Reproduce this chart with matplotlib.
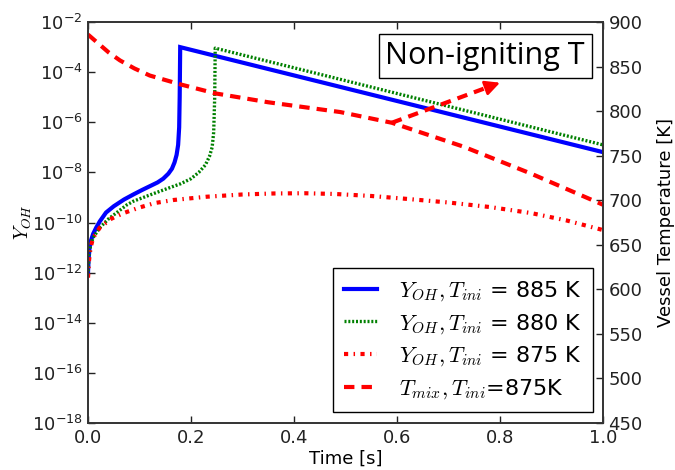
import numpy as np
import matplotlib
matplotlib.use('Agg')
import matplotlib.pyplot as plt
from matplotlib.ticker import FixedLocator, FuncFormatter, NullLocator

plt.rc('font', **{'size': 13, 'family': 'DejaVu Sans'})
plt.rc('mathtext', **{'fontset': 'cm'})

# OH mass fraction, T_ini = 885 K (log10 values)
t_885 = [0.0, 0.001, 0.003, 0.006, 0.010, 0.016, 0.023, 0.035, 0.050,
         0.070, 0.088, 0.105, 0.120, 0.135, 0.146, 0.156, 0.163, 0.168,
         0.172, 0.175, 0.177, 0.178, 0.179, 1.0]
logY_885 = [-12.0, -11.5, -11.0, -10.7, -10.45, -10.2, -9.95, -9.6, -9.35,
            -9.08, -8.88, -8.7, -8.55, -8.4, -8.25, -8.05, -7.85, -7.6,
            -7.3, -6.9, -6.2, -5.0, -3.0, -7.19]

# OH mass fraction, T_ini = 880 K
t_880 = [0.0, 0.002, 0.005, 0.010, 0.023, 0.040, 0.056, 0.075, 0.088,
         0.120, 0.153, 0.180, 0.200, 0.215, 0.228, 0.236, 0.241, 0.244,
         0.246, 0.247, 1.0]
logY_880 = [-12.1, -11.3, -10.9, -10.6, -10.2, -9.85, -9.6, -9.3, -9.15,
            -8.9, -8.65, -8.45, -8.25, -8.0, -7.7, -7.35, -7.0, -6.4,
            -5.0, -3.04, -6.9]

# OH mass fraction, T_ini = 875 K (no ignition)
t_875 = [0.0, 0.002, 0.005, 0.010, 0.023, 0.045, 0.068, 0.10, 0.13, 0.166,
         0.23, 0.30, 0.36, 0.42, 0.48, 0.55, 0.61, 0.70, 0.78, 0.86, 0.93,
         1.0]
logY_875 = [-12.2, -11.5, -11.0, -10.6, -10.2, -9.85, -9.63, -9.4, -9.22,
            -9.1, -8.97, -8.88, -8.84, -8.83, -8.86, -8.94, -9.04, -9.2,
            -9.38, -9.62, -9.92, -10.3]

# mixture temperature, T_ini = 875 K
t_mix = [0.0, 0.02, 0.04, 0.062, 0.09, 0.12, 0.15, 0.18, 0.247, 0.35, 0.49,
         0.59, 0.73, 0.86, 1.0]
T_mix = [886, 876, 866, 857, 848, 840, 835, 830, 820, 810, 799, 787, 760,
         730, 695]

# arrow pointing at the non-igniting temperature curve
arrow_tail = (0.59, 787)
arrow_head = (0.80, 832)

xticks = [0.0, 0.2, 0.4, 0.6, 0.8, 1.0]
yticks_exp = [-18, -16, -14, -12, -10, -8, -6, -4, -2]
tticks = [450, 500, 550, 600, 650, 700, 750, 800, 850, 900]

fig = plt.figure(figsize=(6.75, 4.70), dpi=100)
ax = fig.add_axes([0.1304, 0.1, 0.7629, 0.853])
ax2 = ax.twinx()

l1, = ax.plot(t_885, 10.0**np.array(logY_885), color='b', lw=3,
              solid_joinstyle='miter')
l2, = ax.plot(t_880, 10.0**np.array(logY_880), color='g', lw=2.4,
              dashes=(0.6, 0.55))
l3, = ax.plot(t_875, 10.0**np.array(logY_875), color='r', lw=3,
              dashes=(1.0, 1.3, 0.35, 1.3), dash_capstyle='butt')
l4, = ax2.plot(t_mix, T_mix, color='r', lw=3, dashes=(2.5, 1.7))

# dashed arrow: shaft as a line, head as a short annotation
hx = arrow_tail[0] + 0.93 * (arrow_head[0] - arrow_tail[0])
hy = arrow_tail[1] + 0.93 * (arrow_head[1] - arrow_tail[1])
ax2.plot([arrow_tail[0], hx], [arrow_tail[1], hy], color='r', lw=3,
         dashes=(2.5, 1.7))
ax2.annotate('', xy=arrow_head, xytext=(hx - 0.01, hy - 2.1),
             arrowprops=dict(arrowstyle='-|>', color='r', lw=2,
                             mutation_scale=22, shrinkA=0, shrinkB=0))

ax.text(0.771, 0.915, 'Non-igniting T', transform=ax.transAxes,
        ha='center', va='center', fontsize=22, family='Open Sans',
        bbox=dict(boxstyle='square,pad=0.22', fc='white', ec='black', lw=1),
        zorder=10)

ax.set_yscale('log')
ax.set_xlim(0, 1)
ax.set_ylim(1e-18, 1e-2)
ax2.set_ylim(450, 900)

ax.xaxis.set_major_locator(FixedLocator(xticks))
ax.xaxis.set_major_formatter(FuncFormatter(lambda v, p: f'{v:.1f}'))
ax.yaxis.set_major_locator(FixedLocator([10.0**e for e in yticks_exp]))
ax.yaxis.set_minor_locator(NullLocator())
ax.yaxis.set_major_formatter(FuncFormatter(
    lambda v, p: r'$\mathregular{10^{%d}}$' % round(np.log10(v))))
ax2.yaxis.set_major_locator(FixedLocator(tticks))

for a in (ax, ax2):
    a.tick_params(direction='in', length=5, width=1, labelsize=13,
                  colors='#222222', pad=4)
    for s in a.spines.values():
        s.set_color('#333333')
        s.set_linewidth(1.2)
ax.tick_params(top=True)

ax.set_xlabel('Time [s]', fontsize=13, labelpad=2)
ax.set_ylabel(r'$Y_{OH}$', fontsize=14, labelpad=-2)
ax2.set_ylabel('Vessel Temperature [K]', fontsize=13, labelpad=10)

labels = [r'$Y_{OH}, T_{ini}$ = 885 K', r'$Y_{OH}, T_{ini}$ = 880 K',
          r'$Y_{OH}, T_{ini}$ = 875 K', r'$T_{mix}, T_{ini}$=875K']
leg = ax2.legend([l1, l2, l3, l4], labels, loc='lower right',
                 bbox_to_anchor=(0.9806, 0.0274), borderaxespad=0,
                 fontsize=16, fancybox=False, framealpha=1,
                 edgecolor='black', handlelength=1.45, labelspacing=0.4,
                 borderpad=0.5, handletextpad=1.0)
leg.get_frame().set_linewidth(1)
leg.set_zorder(10)

fig.savefig('out.png', dpi=100)
